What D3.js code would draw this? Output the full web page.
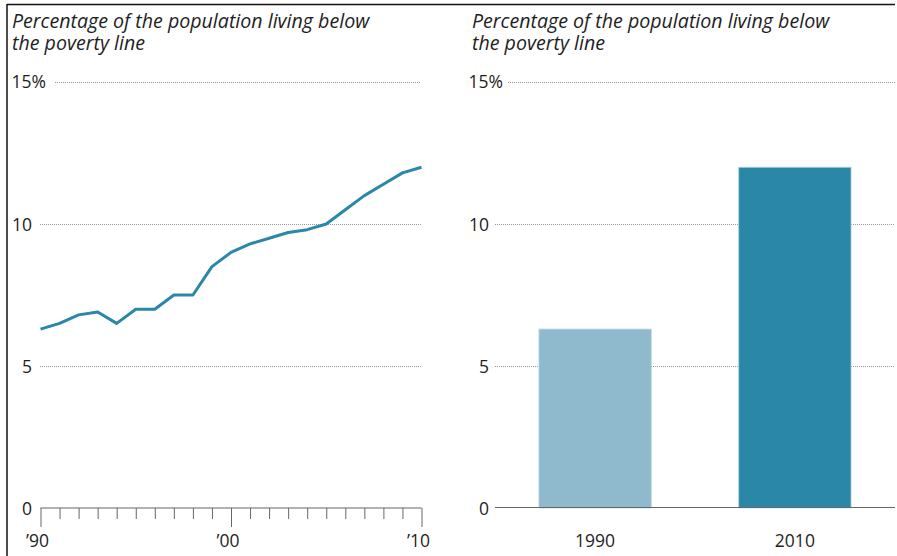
<!DOCTYPE html>
<html><head><meta charset="utf-8">
<script src="https://cdn.jsdelivr.net/npm/d3@7"></script>
<style>
body{margin:0;background:#fff;}
text{font-family:"Open Sans",sans-serif;fill:#1e1e1e;}
</style></head>
<body><svg id="c" width="897" height="556"></svg>
<script>
// ---- data ----
const titleLines = ["Percentage of the population living below", "the poverty line"];
const years = [1990,1991,1992,1993,1994,1995,1996,1997,1998,1999,2000,2001,2002,2003,2004,2005,2006,2007,2008,2009,2010];
const povertyRate = [6.3,6.5,6.8,6.9,6.5,7.0,7.0,7.5,7.5,8.5,9.0,9.3,9.5,9.7,9.8,10.0,10.5,11.0,11.4,11.8,12.0];
const yTicks = [0,5,10,15];
const yTickLabels = ["0","5","10","15%"];
const xMajorYears = [1990,2000,2010];
const xMajorLabels = ["\u201990","\u201900","\u201910"];
const barCategories = ["1990","2010"];
const barValues = [6.3,12.0];
const barColors = ["#8fbace","#2a87a7"];
const lineColor = "#2a87a7";

const svg = d3.select("#c");

// frame
svg.append("line").attr("x1",7).attr("x2",895).attr("y1",4.5).attr("y2",4.5).attr("stroke","#111").attr("stroke-width",1.5);
svg.append("line").attr("x1",7).attr("x2",7).attr("y1",4).attr("y2",556).attr("stroke","#111").attr("stroke-width",1.5);

const y = d3.scaleLinear().domain([0,15]).range([508,82]);

function title(x0){
  const t = svg.append("text").attr("x",x0).attr("y",28).style("font-style","italic").style("font-size","19.6px");
  titleLines.forEach((s,i)=>t.append("tspan").attr("x",x0).attr("dy",i?22:0).text(s));
}
function yLabels(xRight, gridStart0, gridStart15, gridEnd){
  yTicks.forEach((v,i)=>{
    if(v>0){
      svg.append("line").attr("x1", v===15?gridStart15:gridStart0).attr("x2",gridEnd)
        .attr("y1",y(v)+0.5).attr("y2",y(v)+0.5).attr("stroke","#999").attr("stroke-width",1).attr("stroke-dasharray","1,1");
    }
    const lab = yTickLabels[i];
    if(lab.endsWith("%")){
      svg.append("text").attr("x",xRight-20.5).attr("y",y(v)).attr("dy","0.36em").style("font-size","17.5px").text(lab);
    } else {
      svg.append("text").attr("x",xRight).attr("y",y(v)).attr("dy","0.4em").attr("text-anchor","end").style("font-size","17.5px").text(lab);
    }
  });
}

// ---- left: line chart ----
title(12);
const x = d3.scaleLinear().domain([1990,2010]).range([40.5,421.5]);
yLabels(32, 40, 55, 421);
// x axis
const xAxis = d3.axisBottom(x).tickValues(years).tickSize(11).tickFormat("");
const gx = svg.append("g").attr("transform","translate(0,508)").call(xAxis);
gx.select(".domain").attr("stroke","#666").attr("stroke-width",1.2).attr("d",`M${x(1990)},0H${x(2010)}`);
gx.selectAll(".tick line").attr("stroke","#666").attr("y2",d=>xMajorYears.includes(d)?19:11);
xMajorYears.forEach((yr,i)=>{
  svg.append("text").attr("x",x(yr)-3).attr("y",547).attr("text-anchor","middle").style("font-size","17.5px").text(xMajorLabels[i]);
});
const line = d3.line().x((d,i)=>x(years[i])).y(d=>y(d));
svg.append("path").datum(povertyRate).attr("d",line).attr("fill","none").attr("stroke",lineColor).attr("stroke-width",3).attr("stroke-linejoin","round");

// ---- right: bar chart ----
title(472);
yLabels(489, 495, 508, 895);
const xb = d3.scaleBand().domain(barCategories).range([495,895]).paddingInner(0.4375).paddingOuter(0.22);
svg.selectAll("rect.bar").data(barValues).enter().append("rect").attr("class","bar")
  .attr("x",(d,i)=>xb(barCategories[i])).attr("width",xb.bandwidth())
  .attr("y",d=>y(d)).attr("height",d=>y(0)-y(d))
  .attr("fill",(d,i)=>barColors[i]).attr("stroke","#b9d6e4").attr("stroke-width",0.8);
svg.append("line").attr("x1",495).attr("x2",895).attr("y1",507.5).attr("y2",507.5).attr("stroke","#666").attr("stroke-width",1.2);
barCategories.forEach(c=>{
  svg.append("text").attr("x",xb(c)+xb.bandwidth()/2).attr("y",547).attr("text-anchor","middle").style("font-size","17.5px").text(c);
});
</script></body></html>
